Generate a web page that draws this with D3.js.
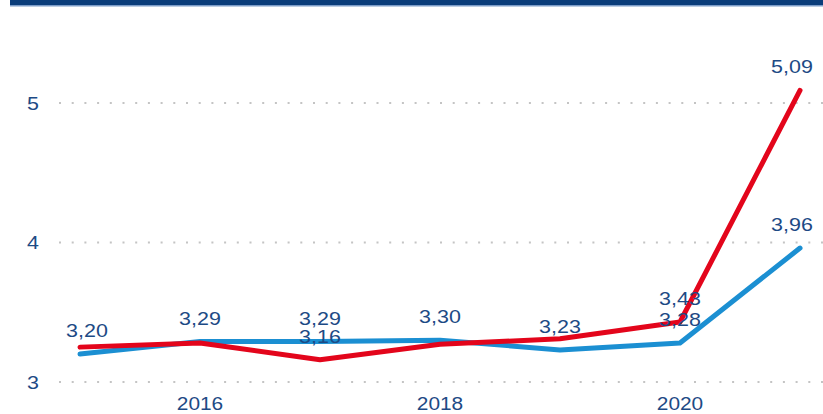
<!DOCTYPE html>
<html>
<head>
<meta charset="utf-8">
<script src="https://cdn.jsdelivr.net/npm/d3@7/dist/d3.min.js"></script>
<style>
  body { margin: 0; background: #fff; }
  svg { display: block; font-family: 'Liberation Sans', Arial, sans-serif; }
</style>
</head>
<body>
<div id="svg-container"></div>
<script>
// Data
const years = [2015, 2016, 2017, 2018, 2019, 2020, 2021]
const blueValues = [3.2, 3.29, 3.29, 3.3, 3.23, 3.28, 3.96]
const redValues = [3.25, 3.28, 3.16, 3.27, 3.31, 3.43, 5.09]
// which points get a value label
const blueLabeled = [true, true, true, true, true, true, true]
const redLabeled = [false, false, true, false, false, true, true]
const xTicks = [2016, 2018, 2020]
const yTicks = [3, 4, 5]

const svgWidth = 823,
  svgHeight = 414

const svg = d3
  .select('#svg-container')
  .append('svg')
  .attr('width', svgWidth)
  .attr('height', svgHeight)

// Scales
const xScale = d3.scaleLinear().domain([2015, 2021]).range([80, 800])
const yScale = d3.scaleLinear().domain([3, 5]).range([382, 103])

const textColor = '#1d4a85'
const fmt = v => d3.format('.2f')(v).replace('.', ',')
// text in the source is a little stretched sideways
const stretch = (x, y) => `translate(${x},${y}) scale(1.13,1)`

// top band
svg.append('rect').attr('x', 10).attr('y', 0).attr('width', svgWidth - 10).attr('height', 5).attr('fill', '#0a3d7a')
svg.append('rect').attr('x', 10).attr('y', 5).attr('width', svgWidth - 10).attr('height', 1.5).attr('fill', '#7b9cc8')

// grid
svg
  .append('g')
  .selectAll('line')
  .data(yTicks)
  .join('line')
  .attr('x1', 59)
  .attr('x2', svgWidth)
  .attr('y1', d => yScale(d))
  .attr('y2', d => yScale(d))
  .attr('stroke', '#c4c4c4')
  .attr('stroke-width', 2)
  .attr('stroke-dasharray', '2 10.7')

// y labels
svg
  .append('g')
  .selectAll('text')
  .data(yTicks)
  .join('text')
  .attr('transform', d => stretch(33, yScale(d)))
  .attr('text-anchor', 'middle')
  .attr('dominant-baseline', 'central')
  .attr('fill', textColor)
  .style('font-size', '19px')
  .text(d => d)

// x labels
svg
  .append('g')
  .selectAll('text')
  .data(xTicks)
  .join('text')
  .attr('transform', d => stretch(xScale(d), 410))
  .attr('text-anchor', 'middle')
  .attr('fill', textColor)
  .style('font-size', '18.5px')
  .text(d => d)

// lines
const linegen = (vals) =>
  d3
    .line()
    .x((d, i) => xScale(years[i]))
    .y(d => yScale(d))(vals)

svg
  .append('path')
  .attr('d', linegen(blueValues))
  .attr('fill', 'none')
  .attr('stroke', '#1b8fd2')
  .attr('stroke-width', 5)
  .attr('stroke-linecap', 'round')
  .attr('stroke-linejoin', 'round')

svg
  .append('path')
  .attr('d', linegen(redValues))
  .attr('fill', 'none')
  .attr('stroke', '#e3051b')
  .attr('stroke-width', 5)
  .attr('stroke-linecap', 'round')
  .attr('stroke-linejoin', 'round')

// value labels, kept inside the plot edges
const labelX = x => Math.min(Math.max(x, 87), 792)

function addLabels(vals, shown) {
  svg
    .append('g')
    .selectAll('text')
    .data(vals.map((v, i) => ({ v, year: years[i], show: shown[i] })).filter(d => d.show))
    .join('text')
    .attr('transform', d => stretch(labelX(xScale(d.year)), yScale(d.v) - 17))
    .attr('text-anchor', 'middle')
    .attr('fill', textColor)
    .style('font-size', '19px')
    .text(d => fmt(d.v))
}
addLabels(blueValues, blueLabeled)
addLabels(redValues, redLabeled)
</script>
</body>
</html>
